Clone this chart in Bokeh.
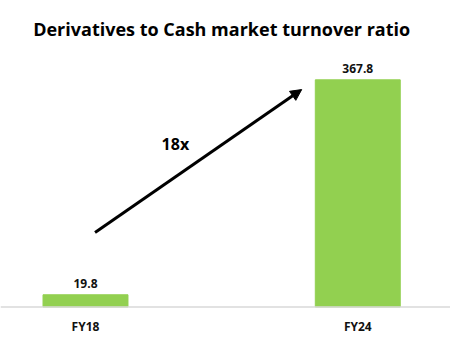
from bokeh.plotting import figure
from bokeh.models import ColumnDataSource, Range1d, Arrow, NormalHead, Span
from bokeh.core.properties import value
from bokeh.embed import file_html
from bokeh.resources import INLINE

categories = ["FY18", "FY24"]
values = [19.8, 367.8]
value_labels = ["19.8", "367.8"]
title_text = "Derivatives to Cash market turnover ratio"
growth_label = "18x"

xs = list(range(len(categories)))
FONT = "Open Sans"
GREEN = "#92d050"

src = ColumnDataSource(dict(x=xs, top=values, lbl=value_labels,
                            cat=categories, zero=[0] * len(xs)))

p = figure(width=450, height=339, output_backend="svg", toolbar_location=None,
           x_range=Range1d(-0.3122, 1.3405), y_range=Range1d(-52.6, 496.2),
           min_border_left=0, min_border_right=0, min_border_top=0, min_border_bottom=0)
p.outline_line_color = None
p.xgrid.visible = False
p.ygrid.visible = False
p.xaxis.visible = False
p.yaxis.visible = False

p.vbar(x="x", top="top", width=0.312, bottom=0, source=src, color=GREEN)
p.add_layout(Span(location=0, dimension="width", line_color="#d9d9d9", line_width=1.5))

p.text(x="x", y="top", text="lbl", source=src, text_align="center", text_baseline="bottom",
       y_offset=-7, text_font=value(FONT), text_font_style="bold", text_font_size="12px",
       text_color="#111111")
# category labels under the baseline
p.text(x="x", y="zero", text="cat", source=src, text_align="center", text_baseline="middle",
       y_offset=19, text_font=value(FONT), text_font_style="bold", text_font_size="12px",
       text_color="#111111")

# title
p.text(x=[0.5], y=[450], text=[title_text], text_align="center", text_baseline="middle",
       text_font=value(FONT), text_font_style="bold", text_font_size="18px", text_color="#000000")

# growth arrow
arrow_start = (0.035, 120.5)
arrow_end = (0.794, 352)
p.add_layout(Arrow(end=NormalHead(size=11, fill_color="black", line_color="black"),
                   x_start=arrow_start[0], y_start=arrow_start[1],
                   x_end=arrow_end[0], y_end=arrow_end[1],
                   line_width=3, line_color="black"))
p.text(x=[0.33], y=[264], text=[growth_label], text_align="center", text_baseline="middle",
       text_font=value(FONT), text_font_style="bold", text_font_size="16px", text_color="#000000")

open("out.html", "w").write(file_html(p, INLINE))
